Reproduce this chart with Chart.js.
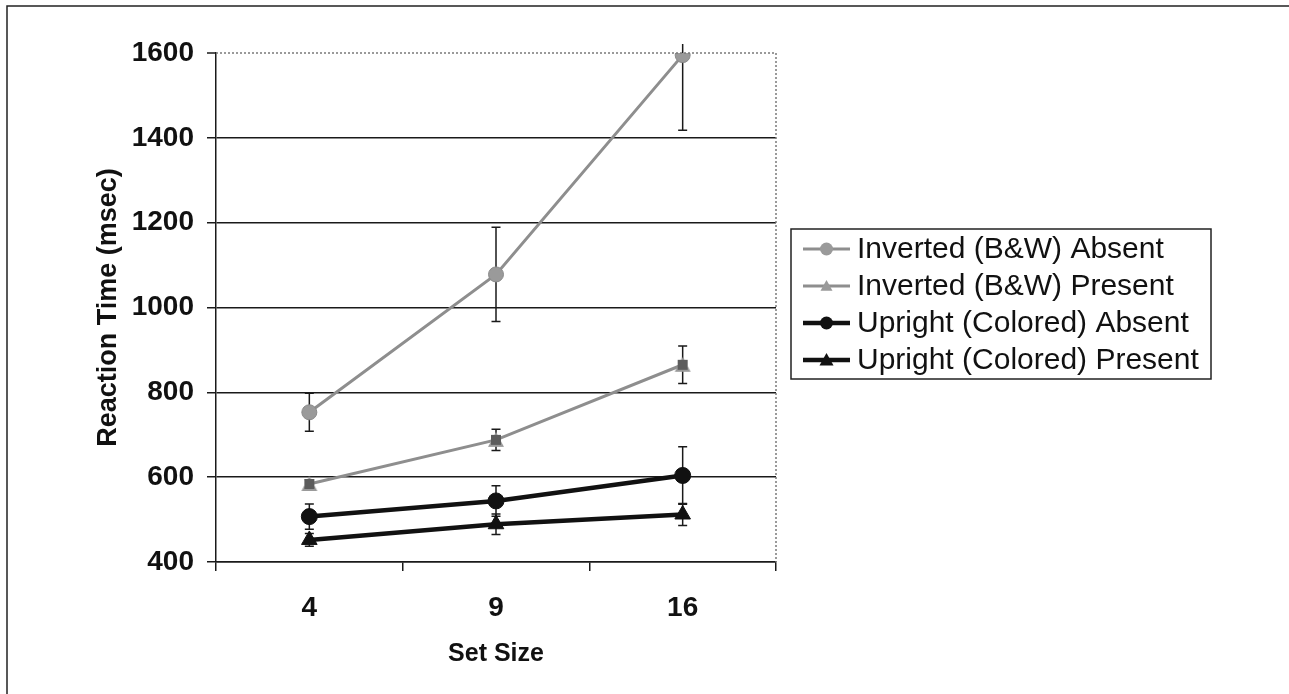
<!DOCTYPE html>
<html>
<head>
<meta charset="utf-8">
<script src="https://cdn.jsdelivr.net/npm/chart.js@4.4.1/dist/chart.umd.min.js"></script>
<style>
html,body{margin:0;padding:0;background:#fff;}
#wrap{width:1289px;height:694px;position:relative;}
</style>
</head>
<body>
<div id="wrap"><canvas id="c"></canvas></div>
<script>
// ---- data ----
const categories = ['4', '9', '16'];
const yTicks = [400, 600, 800, 1000, 1200, 1400, 1600];
const seriesLabels = ['Inverted (B&W) Absent', 'Inverted (B&W) Present', 'Upright (Colored) Absent', 'Upright (Colored) Present'];
const invertedAbsent = [753, 1078, 1595];
const invertedAbsentErr = [45, 111, 177];
const invertedPresent = [584, 688, 865];
const invertedPresentErr = [10, 25, 44];
const uprightAbsent = [507, 544, 604];
const uprightAbsentErr = [30, 36, 68];
const uprightPresent = [452, 489, 512];
const uprightPresentErr = [15, 24, 26];

const GRAY = '#8e8e8e';
const BLACK = '#111111';
const FONT = "'Liberation Sans', Arial, sans-serif";

// custom marker for Inverted Present: gray triangle with darker square
function makeIPMarker() {
  const cv = document.createElement('canvas');
  cv.width = 18; cv.height = 18;
  const g = cv.getContext('2d');
  g.fillStyle = '#9a9a9a';
  g.beginPath(); g.moveTo(9, 1); g.lineTo(17, 16); g.lineTo(1, 16); g.closePath(); g.fill();
  g.fillStyle = '#5c5c5c';
  g.fillRect(4, 4, 10, 10);
  return cv;
}
const ipMarker = makeIPMarker();

const errArrays = [invertedAbsentErr, invertedPresentErr, uprightAbsentErr, uprightPresentErr];

const errorBars = {
  id: 'errorBars',
  beforeDatasetsDraw(chart) {
    const ctx = chart.ctx, x = chart.scales.x, y = chart.scales.y, area = chart.chartArea;
    ctx.save();
    ctx.strokeStyle = '#1a1a1a';
    ctx.lineWidth = 1.5;
    chart.data.datasets.forEach((ds, i) => {
      const errs = errArrays[i];
      ds.data.forEach((v, j) => {
        const px = x.getPixelForValue(j);
        let top = y.getPixelForValue(v + errs[j]);
        let bot = y.getPixelForValue(v - errs[j]);
        let capTop = true;
        if (top < area.top - 9) { top = area.top - 9; capTop = false; }
        ctx.beginPath();
        ctx.moveTo(px, top); ctx.lineTo(px, bot);
        if (capTop) { ctx.moveTo(px - 4.5, top); ctx.lineTo(px + 4.5, top); }
        ctx.moveTo(px - 4.5, bot); ctx.lineTo(px + 4.5, bot);
        ctx.stroke();
      });
    });
    ctx.restore();
  }
};

const decorations = {
  id: 'decorations',
  beforeDraw(chart) {
    const ctx = chart.ctx;
    ctx.save();
    ctx.fillStyle = '#fff';
    ctx.fillRect(0, 0, chart.width, chart.height);
    ctx.restore();
  },
  afterDraw(chart) {
    const ctx = chart.ctx, area = chart.chartArea;
    ctx.save();
    // outer frame (left and top)
    ctx.strokeStyle = '#222';
    ctx.lineWidth = 1.5;
    ctx.beginPath();
    ctx.moveTo(7, chart.height); ctx.lineTo(7, 6); ctx.lineTo(chart.width, 6);
    ctx.stroke();
    // dotted plot border top & right
    ctx.strokeStyle = '#7a7a7a';
    ctx.setLineDash([2, 2]);
    ctx.beginPath();
    ctx.moveTo(area.left, area.top); ctx.lineTo(area.right, area.top); ctx.lineTo(area.right, area.bottom);
    ctx.stroke();
    ctx.setLineDash([]);
    // tick mark at top value
    ctx.strokeStyle = '#1a1a1a';
    ctx.beginPath();
    ctx.moveTo(area.left - 9, area.top); ctx.lineTo(area.left, area.top);
    ctx.stroke();

    // legend
    const bx = 791, by = 229, bw = 420, bh = 150;
    ctx.strokeStyle = '#222';
    ctx.lineWidth = 1.5;
    ctx.strokeRect(bx, by, bw, bh);
    const rows = [249, 286, 323, 360];
    chart.data.datasets.forEach((ds, i) => {
      const cy = rows[i];
      ctx.strokeStyle = ds.borderColor;
      ctx.lineWidth = ds.borderWidth;
      ctx.beginPath(); ctx.moveTo(803, cy); ctx.lineTo(850, cy); ctx.stroke();
      ctx.fillStyle = ds.pointBackgroundColor;
      if (i === 0 || i === 2) {
        ctx.beginPath(); ctx.arc(826.5, cy, 6.5, 0, Math.PI * 2); ctx.fill();
      } else {
        const s = i === 1 ? 6 : 7;
        ctx.beginPath(); ctx.moveTo(826.5, cy - s); ctx.lineTo(826.5 + s, cy + s * 0.8); ctx.lineTo(826.5 - s, cy + s * 0.8); ctx.closePath(); ctx.fill();
      }
      ctx.fillStyle = '#111';
      ctx.font = '30px ' + FONT;
      ctx.textBaseline = 'middle';
      ctx.textAlign = 'left';
      ctx.fillText(ds.label, 857, cy + 1);
    });
    ctx.restore();
  }
};

new Chart(document.getElementById('c'), {
  type: 'line',
  data: {
    labels: categories,
    datasets: [
      { label: seriesLabels[0], data: invertedAbsent, borderColor: GRAY, borderWidth: 3,
        pointStyle: 'circle', pointRadius: 7.5, pointBackgroundColor: '#9a9a9a', pointBorderColor: '#8a8a8a', pointBorderWidth: 1 },
      { label: seriesLabels[1], data: invertedPresent, borderColor: GRAY, borderWidth: 3,
        pointStyle: ipMarker, pointRadius: 8, pointBackgroundColor: '#9a9a9a', pointBorderColor: '#9a9a9a' },
      { label: seriesLabels[2], data: uprightAbsent, borderColor: BLACK, borderWidth: 4.5,
        pointStyle: 'circle', pointRadius: 8, pointBackgroundColor: BLACK, pointBorderColor: BLACK, pointBorderWidth: 1 },
      { label: seriesLabels[3], data: uprightPresent, borderColor: BLACK, borderWidth: 4.5,
        pointStyle: 'triangle', pointRadius: 9, pointBackgroundColor: BLACK, pointBorderColor: BLACK, pointBorderWidth: 1 }
    ]
  },
  options: {
    responsive: true,
    maintainAspectRatio: false,
    animation: false,
    layout: { padding: { left: 0, top: 53, right: 513, bottom: 0 } },
    plugins: { legend: { display: false }, tooltip: { enabled: false } },
    elements: { line: { tension: 0 } },
    scales: {
      x: {
        type: 'category',
        offset: true,
        afterFit: s => { s.height = 132; },
        grid: { offset: true, drawOnChartArea: false, color: '#1a1a1a', lineWidth: 1.5, tickLength: 9 },
        border: { display: true, color: '#1a1a1a', width: 1.5 },
        ticks: { color: BLACK, font: { family: FONT, size: 28, weight: 'bold' }, padding: 20 },
        title: { display: true, text: 'Set Size', color: BLACK, font: { family: FONT, size: 25, weight: 'bold' }, padding: { top: 0, bottom: 25 } }
      },
      y: {
        min: 400, max: 1600,
        afterFit: s => { s.width = 216; },
        afterBuildTicks: s => { s.ticks = yTicks.map(v => ({ value: v })); },
        grid: { color: c => (c.tick && c.tick.value === 1600) ? 'rgba(0,0,0,0)' : '#1a1a1a', lineWidth: 1.5, tickLength: 9 },
        border: { display: true, color: '#1a1a1a', width: 1.5 },
        ticks: { color: BLACK, font: { family: FONT, size: 28, weight: 'bold' }, padding: 13, callback: v => String(v) },
        title: { display: true, text: 'Reaction Time (msec)', color: BLACK, font: { family: FONT, size: 27, weight: 'bold' }, padding: { top: 92, bottom: 0 } }
      }
    }
  },
  plugins: [decorations, errorBars]
});
</script>
</body>
</html>
